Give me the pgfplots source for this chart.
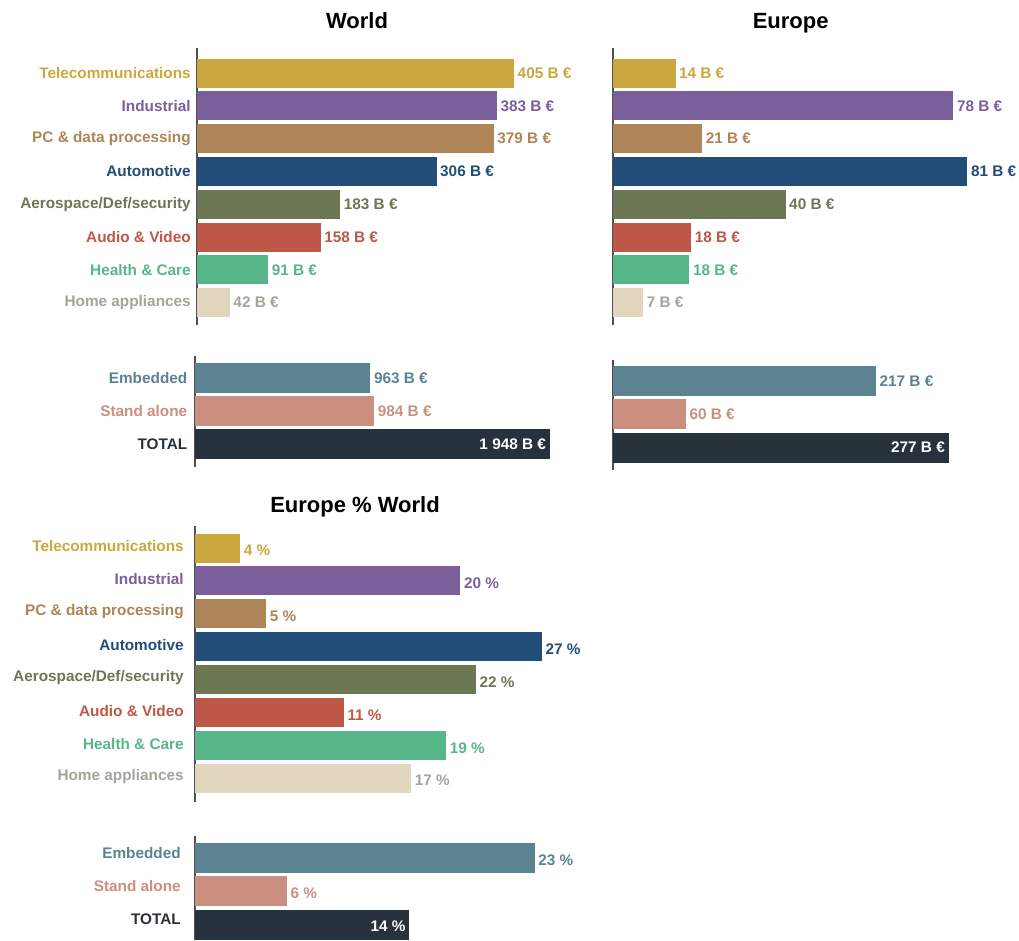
\documentclass[border=0pt]{standalone}
\usepackage{pgfplots}
\pgfplotsset{compat=1.18}
\usepackage{fontspec}
\setmainfont{Liberation Sans}
\definecolor{cTel}{HTML}{CBA83E}
\definecolor{cInd}{HTML}{7B5F9B}
\definecolor{cPC}{HTML}{AE8558}
\definecolor{cAut}{HTML}{214D78}
\definecolor{cAer}{HTML}{6C7754}
\definecolor{cAud}{HTML}{BD5748}
\definecolor{cHea}{HTML}{57B689}
\definecolor{cHomB}{HTML}{E1D6BE}
\definecolor{cHomT}{HTML}{A6A39A}
\definecolor{cEmb}{HTML}{5B8391}
\definecolor{cSta}{HTML}{CB8F80}
\definecolor{cTot}{HTML}{28323C}
\definecolor{axgray}{HTML}{505050}
\newcommand{\lab}{\fontsize{11.5}{13}\selectfont\bfseries}
\newcommand{\ttl}{\fontsize{16.5}{19}\selectfont\bfseries}
\newcommand{\hb}[5]{\addplot[fill=#1, draw=none, every node near coord/.append style={text=#2}] coordinates {(#3,#4) [#5]};}
\newcommand{\hbt}[3]{\addplot[fill=cTot, draw=none, every node near coord/.append style={text=white, anchor=east, xshift=-5.25pt}] coordinates {(#1,#2) [#3]};}
\pgfplotsset{
  hbase/.style={
    xbar, bar shift=0pt, clip=false,
    axis x line=none, axis y line*=left,
    y dir=reverse, anchor=north west,
    xmin=0,
    major tick length=0pt,
    axis line style={draw=axgray, line width=1.1pt},
    tick label style={font=\lab},
    yticklabel style={anchor=east, inner sep=0pt, xshift=-4.5pt},
    nodes near coords, point meta=explicit symbolic,
    every node near coord/.append style={font=\lab, anchor=west, inner sep=0pt, xshift=2.5pt},
  },
  top8/.style={ytick={0,...,7},
    yticklabels={\textcolor{cTel}{Telecommunications},\textcolor{cInd}{Industrial},\textcolor{cPC}{PC \& data processing},\textcolor{cAut}{Automotive},\textcolor{cAer}{Aerospace/Def/security},\textcolor{cAud}{Audio \& Video},\textcolor{cHea}{Health \& Care},\textcolor{cHomT}{Home appliances}}},
  bot3/.style={ytick={0,1,2},
    yticklabels={\textcolor{cEmb}{Embedded},\textcolor{cSta}{Stand alone},\textcolor{cTot}{TOTAL}}},
  nolabels/.style={yticklabels={}},
}
\begin{document}
\begin{tikzpicture}
\path[use as bounding box] (0pt,0pt) rectangle (764.25pt,-705pt);
\node[font=\ttl, anchor=base] at (267.75pt,-21pt) {World};
\node[font=\ttl, anchor=base] at (593pt,-21pt) {Europe};
\node[font=\ttl, anchor=base] at (266.25pt,-384pt) {Europe \% World};

% World top
\begin{axis}[hbase, top8, at={(147.75pt,-36pt)}, x=0.5873pt, y=24.6pt,
  xmax=520, ymin=-0.762, ymax=7.68, bar width=0.884]
\hb{cTel}{cTel}{405}{0}{405 B €}
\hb{cInd}{cInd}{383}{1}{383 B €}
\hb{cPC}{cPC}{379}{2}{379 B €}
\hb{cAut}{cAut}{306}{3}{306 B €}
\hb{cAer}{cAer}{183}{4}{183 B €}
\hb{cAud}{cAud}{158}{5}{158 B €}
\hb{cHea}{cHea}{91}{6}{91 B €}
\hb{cHomB}{cHomT}{42}{7}{42 B €}
\end{axis}

% World bottom
\begin{axis}[hbase, bot3, at={(146.25pt,-267pt)}, x=0.13665pt, y=24.75pt,
  xmax=2000, ymin=-0.667, ymax=2.7, bar width=0.91,
  yticklabel style={xshift=-1.1pt}]
\hb{cEmb}{cEmb}{963}{0}{963 B €}
\hb{cSta}{cSta}{984}{1}{984 B €}
\hbt{1948}{2}{1 948 B €}
\end{axis}

% Europe top
\begin{axis}[hbase, ytick={0,...,7}, nolabels, at={(459.75pt,-36pt)}, x=3.2775pt, y=24.6pt,
  xmax=90, ymin=-0.762, ymax=7.68, bar width=0.884]
\hb{cTel}{cTel}{14.3}{0}{14 B €}
\hb{cInd}{cInd}{77.9}{1}{78 B €}
\hb{cPC}{cPC}{20.4}{2}{21 B €}
\hb{cAut}{cAut}{81.1}{3}{81 B €}
\hb{cAer}{cAer}{39.5}{4}{40 B €}
\hb{cAud}{cAud}{17.9}{5}{18 B €}
\hb{cHea}{cHea}{17.5}{6}{18 B €}
\hb{cHomB}{cHomT}{6.9}{7}{7 B €}
\end{axis}

% Europe bottom
\begin{axis}[hbase, ytick={0,1,2}, nolabels, at={(459.75pt,-270pt)}, x=0.909pt, y=24.975pt,
  xmax=300, ymin=-0.63, ymax=2.67, bar width=0.9]
\hb{cEmb}{cEmb}{217}{0}{217 B €}
\hb{cSta}{cSta}{60.2}{1}{60 B €}
\hbt{277}{2}{277 B €}
\end{axis}

% Europe % World top
\begin{axis}[hbase, top8, at={(146.25pt,-394.5pt)}, x=9.7125pt, y=24.72pt,
  xmax=30, ymin=-0.667, ymax=7.71, bar width=0.88,
  yticklabel style={xshift=-3.8pt, yshift=1.5pt},
  every node near coord/.append style={yshift=-1.5pt}]
\hb{cTel}{cTel}{3.5}{0}{4 \%}
\hb{cInd}{cInd}{20.5}{1}{20 \%}
\hb{cPC}{cPC}{5.5}{2}{5 \%}
\hb{cAut}{cAut}{26.8}{3}{27 \%}
\hb{cAer}{cAer}{21.7}{4}{22 \%}
\hb{cAud}{cAud}{11.5}{5}{11 \%}
\hb{cHea}{cHea}{19.4}{6}{19 \%}
\hb{cHomB}{cHomT}{16.7}{7}{17 \%}
\end{axis}

% Europe % World bottom
\begin{axis}[hbase, bot3, at={(146.25pt,-627pt)}, x=11.325pt, y=24.975pt,
  xmax=30, ymin=-0.66, ymax=2.46, bar width=0.9,
  yticklabel style={xshift=-6pt, yshift=4pt},
  every node near coord/.append style={yshift=-1.5pt}]
\hb{cEmb}{cEmb}{22.5}{0}{23 \%}
\hb{cSta}{cSta}{6.1}{1}{6 \%}
\hbt{14.2}{2}{14 \%}
\end{axis}
\end{tikzpicture}
\end{document}
